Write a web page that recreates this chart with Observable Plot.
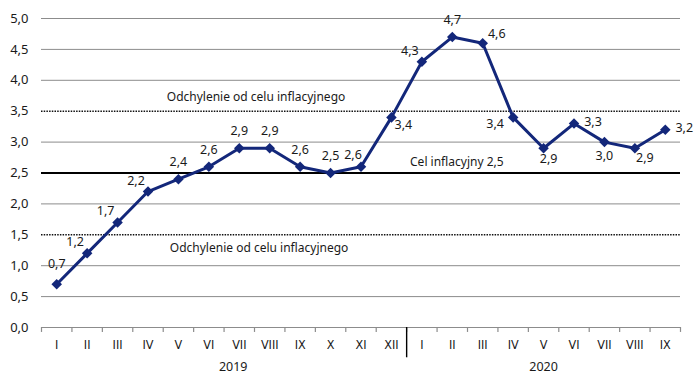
<!DOCTYPE html>
<html><head><meta charset="utf-8">
<script src="https://cdn.jsdelivr.net/npm/d3@7"></script>
<script src="https://cdn.jsdelivr.net/npm/@observablehq/plot@0.6"></script>
<style>body{margin:0;background:#fff}</style>
</head><body><div id="chart"></div>
<script>
const months = ["I","II","III","IV","V","VI","VII","VIII","IX","X","XI","XII","I","II","III","IV","V","VI","VII","VIII","IX"];
const values = [0.7,1.2,1.7,2.2,2.4,2.6,2.9,2.9,2.6,2.5,2.6,3.4,4.3,4.7,4.6,3.4,2.9,3.3,3.0,2.9,3.2];
const years = ["2019","2020"];
const yearCenters = [6.3, 16.5];
const yearBreaks = [12];
const target = 2.5;
const bandLines = [1.5, 3.5];
const bandLabel = "Odchylenie od celu inflacyjnego";
const targetLabel = "Cel inflacyjny 2,5";
const yTicks = d3.range(0, 5.01, 0.5);

const data = values.map((v, i) => ({i, x: i + 0.5, v, m: months[i]}));
const fmt = d => d.toFixed(1).replace(".", ",");

const anchors = {
  N: {dx: 0, dy: -17}, N0: {dx: 0, dy: -20}, NW: {dx: -12, dy: -11}, NW2: {dx: -8, dy: -12},
  NE: {dx: 14, dy: -9}, E: {dx: 19, dy: -2}, SE: {dx: 12, dy: 8}, SE2: {dx: 10, dy: 10},
  SW: {dx: -18, dy: 7}, S: {dx: 5, dy: 11}, S0: {dx: 0, dy: 14}
};
const place = ["N0","NW","NW","NW","N","N","N","N","N","N","NW2","SE","NW","N","NE","SW","S","E","S0","SE2","E"];

const line = "#13277a";
const font = "'Noto Sans', sans-serif";

const labelMarks = Object.entries(anchors).map(([k, a]) =>
  Plot.text(data.filter(d => place[d.i] === k), {x: "x", y: "v", text: d => fmt(d.v), dx: a.dx, dy: a.dy, fontSize: 12.5, fill: "#1a1a1a"})
);

const chart = Plot.plot({
  width: 697, height: 377,
  marginLeft: 41, marginRight: 17, marginTop: 18, marginBottom: 50,
  style: {fontFamily: font, fontSize: "12.5px", color: "#1a1a1a", background: "#fff"},
  x: {type: "linear", domain: [0, 21], axis: null},
  y: {domain: [0, 5], axis: null},
  marks: [
    Plot.ruleY(yTicks.filter(t => t > 0 && !bandLines.includes(t) && t !== target), {stroke: "#8c8c8c", strokeWidth: 1}),
    Plot.ruleY([0], {stroke: "#8c8c8c", strokeWidth: 1.2}),
    Plot.ruleY(bandLines, {stroke: "#111", strokeWidth: 1.4, strokeDasharray: "1.5,1.2"}),
    Plot.ruleY([target], {stroke: "#000", strokeWidth: 1.8}),
    Plot.axisY({ticks: yTicks, tickSize: 0, tickPadding: 13, tickFormat: fmt, fontSize: 13, fill: "#1a1a1a", label: null}),
    Plot.ruleX(d3.range(0, 22), {y1: 0, y2: -0.08, stroke: "#8c8c8c", strokeWidth: 1.2}),
    Plot.ruleX(yearBreaks, {y1: 0, y2: -0.49, stroke: "#000", strokeWidth: 1.4}),
    Plot.text(data, {x: "x", y: 0, text: "m", dy: 17, fontSize: 12.5, fill: "#1a1a1a", fontFamily: "'DejaVu Sans Condensed', sans-serif"}),
    Plot.text(years, {x: (d, i) => yearCenters[i], y: 0, text: d => d, dy: 39, fontSize: 12.5, fill: "#1a1a1a"}),
    Plot.text([bandLabel], {x: 7.05, y: 3.5, dy: -14, fontSize: 12, fill: "#1a1a1a"}),
    Plot.text([bandLabel], {x: 7.15, y: 1.5, dy: 13, fontSize: 12, fill: "#1a1a1a"}),
    Plot.text([targetLabel], {x: 13.65, y: 2.5, dy: -11, fontSize: 12, fill: "#1a1a1a"}),
    Plot.line(data, {x: "x", y: "v", stroke: line, strokeWidth: 3, strokeLinejoin: "round"}),
    Plot.dot(data, {x: "x", y: "v", symbol: "square", rotate: 45, r: 4.2, fill: line, stroke: "none"}),
    ...labelMarks
  ]
});
document.getElementById("chart").append(chart);
</script>
</body></html>
